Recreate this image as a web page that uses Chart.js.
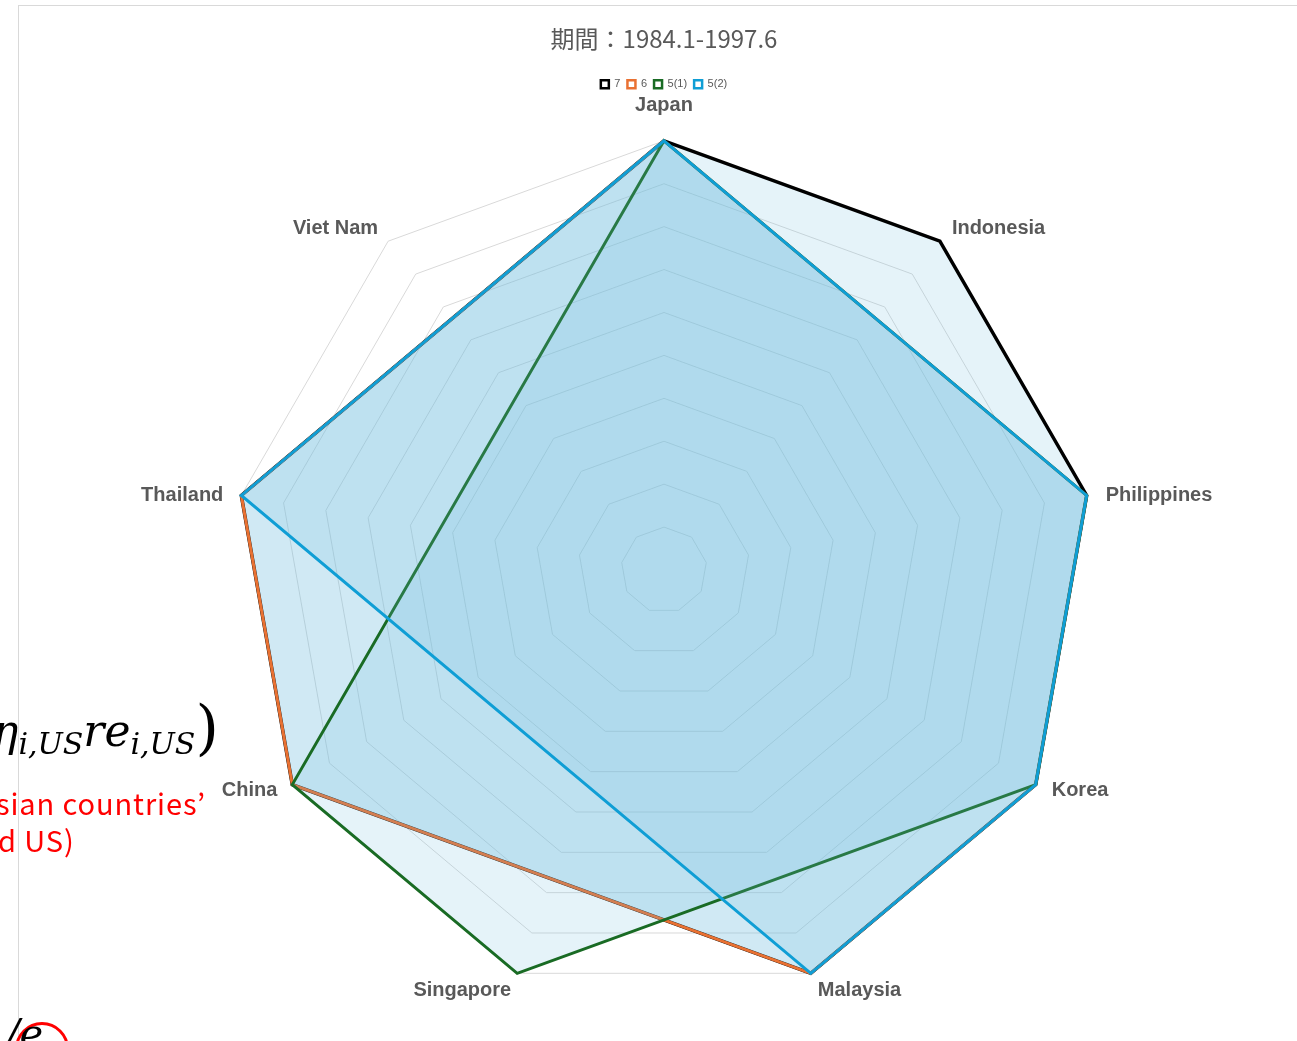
<!DOCTYPE html>
<html>
<head>
<meta charset="utf-8">
<script src="https://cdn.jsdelivr.net/npm/chart.js@4/dist/chart.umd.min.js"></script>
<style>
  html, body { margin: 0; padding: 0; background: #fff; overflow: hidden; width: 1297px; height: 1041px; }
  #frame { position: absolute; left: 18px; top: 5px; width: 1292px; height: 1130px; border-left: 1px solid #d9d9d9; border-top: 1px solid #d9d9d9; box-sizing: border-box; }
  #wrap { position: absolute; left: 18px; top: 5px; width: 1292px; height: 1010px; }
  .bg { position: absolute; white-space: nowrap; z-index: 5; }
  .math { font-family: 'DejaVu Serif', 'Liberation Serif', serif; font-style: italic; font-size: 44px; color: #000; }
  .math sub { font-size: 30px; vertical-align: -8px; }
  .red { font-family: 'Noto Sans CJK JP', 'Liberation Sans', sans-serif; font-size: 29px; letter-spacing: 0.9px; color: #ff0000; }
</style>
</head>
<body>
<div id="frame"></div>
<div id="wrap"><canvas id="radar"></canvas></div>

<!-- 뒤쪽 슬라이드 글자 (잘려 보이는 부분) -->
<div class="bg math" style="left:-8px; top:692px;">η<sub>i,US</sub>re<sub>i,US</sub><span style="font-style:normal;font-size:60px;vertical-align:-2px;">)</span></div>
<div class="bg red" style="left:-4px; top:781px;">sian countries’</div>
<div class="bg red" style="left:-2px; top:818px;">d US)</div>
<div class="bg" style="left:15px; top:1022px; width:48px; height:48px; border:3px solid #ff0000; border-radius:50%;"></div>
<div class="bg math" style="left:6px; top:1010px; font-size:40px;">/e</div>

<script>
// 카테고리 (시계방향)
const countries = ['Japan', 'Indonesia', 'Philippines', 'Korea', 'Malaysia', 'Singapore', 'China', 'Thailand', 'Viet Nam'];

// 시리즈 값 (null = 해당 없음)
const s7  = [1, 1,    1, 1, 1,    null, 1,    1,    null];
const s6  = [1, null, 1, 1, 1,    null, 1,    1,    null];
const s51 = [1, null, 1, 1, null, 1,    1,    null, null];
const s52 = [1, null, 1, 1, 1,    null, null, 1,    null];

const seriesNames = ['7', '6', '5(1)', '5(2)'];
const seriesColors = ['#000000', '#E97132', '#196B24', '#0F9ED5'];
const fillColor = 'rgba(110, 188, 222, 0.18)';

// 라벨 위치 보정 (꼭짓점 기준 px) : 가로는 글자 정렬 기준점, 세로는 글자 중심
const labelOffsetX = [0, 12, 19, 16, 7, -6, -15, -18, -10];
const labelOffsetY = [-35, -13, 0, 6, 17, 17, 6, 0, -13];

const ctx = document.getElementById('radar').getContext('2d');

const datasets = [s7, s6, s51, s52].map((vals, i) => ({
    label: seriesNames[i],
    data: vals,
    borderColor: seriesColors[i],
    backgroundColor: fillColor,
    borderWidth: i === 0 ? 3.5 : 3,
    pointRadius: 0,
    pointHoverRadius: 0,
    spanGaps: true,
    fill: true,
    order: 4 - i      // 나중 시리즈가 위에 그려지도록
}));

// 엑셀처럼 라벨을 꼭짓점 옆에 맞추기
const labelShift = {
    id: 'labelShift',
    afterLayout(chart) {
        const scale = chart.scales.r;
        const items = scale && scale._pointLabelItems;
        if (!items) return;
        items.forEach((item, i) => {
            const p = scale.getPointPosition(i, scale.drawingArea);
            const w = item.right - item.left;
            const h = item.bottom - item.top;
            const ax = p.x + labelOffsetX[i];
            if (item.textAlign === 'left') {
                item.x = ax; item.left = ax; item.right = ax + w;
            } else if (item.textAlign === 'right') {
                item.x = ax; item.right = ax; item.left = ax - w;
            } else {
                item.x = ax; item.left = ax - w / 2; item.right = ax + w / 2;
            }
            const top = p.y + labelOffsetY[i] - h / 2;
            item.y = top;
            item.top = top;
            item.bottom = top + h;
        });
    }
};

const myChart = new Chart(ctx, {
    type: 'radar',
    data: {
        labels: countries,
        datasets: datasets
    },
    options: {
        responsive: true,
        maintainAspectRatio: false,
        animation: false,
        layout: { padding: 0 },
        elements: { line: { tension: 0, borderJoinStyle: 'miter' } },
        plugins: {
            title: {
                display: true,
                text: '期間：1984.1-1997.6',
                color: '#595959',
                font: { family: "'Noto Sans CJK JP', 'Liberation Sans', sans-serif", size: 24, weight: 'normal' },
                padding: { top: 19, bottom: 19 }
            },
            legend: {
                display: true,
                position: 'top',
                labels: {
                    boxWidth: 8,
                    boxHeight: 8,
                    padding: 7,
                    color: '#595959',
                    font: { family: "'Liberation Sans', sans-serif", size: 11 },
                    generateLabels: function (chart) {
                        return chart.data.datasets.map((ds, i) => ({
                            text: ds.label,
                            fillStyle: '#ffffff',
                            strokeStyle: ds.borderColor,
                            lineWidth: 2.5,
                            fontColor: '#595959',
                            hidden: !chart.isDatasetVisible(i),
                            datasetIndex: i
                        }));
                    }
                }
            },
            tooltip: { enabled: false }
        },
        scales: {
            r: {
                min: 0,
                max: 1,
                ticks: { display: false, stepSize: 0.1 },
                grid: { color: '#d9d9d9', lineWidth: 1 },
                angleLines: { display: false },
                pointLabels: {
                    color: '#595959',
                    padding: 4,
                    font: { family: "'Liberation Sans', sans-serif", size: 20, weight: 'bold' }
                }
            }
        }
    },
    plugins: [labelShift]
});
</script>
</body>
</html>
